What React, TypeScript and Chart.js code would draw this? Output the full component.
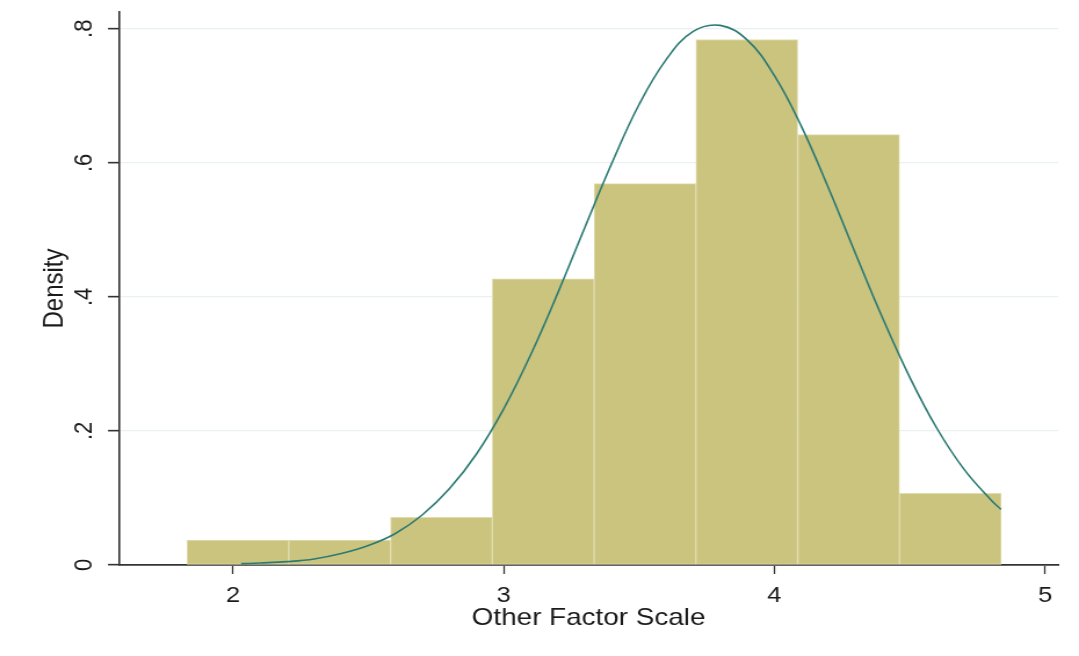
import React, { useEffect, useRef } from "react";
import { Chart, registerables } from "chart.js";

Chart.register(...registerables);

// Histogram bins (bin centres on Other Factor Scale) and densities
const binCenters = [2.018, 2.394, 2.770, 3.146, 3.522, 3.898, 4.274, 4.650];
const binDensity = [0.037, 0.037, 0.071, 0.427, 0.569, 0.784, 0.642, 0.107];

// Normal density overlay
const curveX = [2.03, 2.1, 2.2, 2.3, 2.4, 2.5, 2.6, 2.7, 2.8, 2.9, 3.0, 3.1, 3.2, 3.3, 3.4, 3.5, 3.6, 3.7, 3.8, 3.9, 4.0, 4.1, 4.2, 4.3, 4.4, 4.5, 4.6, 4.7, 4.8, 4.837];
const curveY = [0.002, 0.003, 0.005, 0.009, 0.017, 0.029, 0.047, 0.075, 0.114, 0.166, 0.233, 0.314, 0.406, 0.504, 0.600, 0.687, 0.754, 0.796, 0.805, 0.783, 0.730, 0.654, 0.562, 0.464, 0.368, 0.280, 0.204, 0.143, 0.097, 0.083];

// Axis ticks
const xTickValues = [2, 3, 4, 5];
const yTickValues = [0, 0.2, 0.4, 0.6, 0.8];
const yTickLabels = ["0", ".2", ".4", ".6", ".8"];

const xTitle = "Other Factor Scale";
const yTitle = "Density";

const FULL_W = 1079;
const FULL_H = 656;
const CANVAS_W = 930;
const STRETCH = FULL_W / CANVAS_W;
const FONT = "'Liberation Sans', Arial, sans-serif";

export default function App() {
  const canvasRef = useRef<HTMLCanvasElement | null>(null);

  useEffect(() => {
    const canvas = canvasRef.current;
    if (!canvas) return;
    const chart = new Chart(canvas, {
      type: "bar",
      data: {
        datasets: [
          {
            type: "line",
            data: curveX.map((x, i) => ({ x, y: curveY[i] })),
            borderColor: "#2b7a74",
            borderWidth: 1.6,
            pointRadius: 0,
            tension: 0.4,
            fill: false,
            order: 0,
          } as any,
          {
            type: "bar",
            data: binCenters.map((x, i) => ({ x, y: binDensity[i] })),
            backgroundColor: "#cbc47f",
            borderColor: "#e2ddb0",
            borderWidth: 1,
            borderSkipped: false,
            barPercentage: 1,
            categoryPercentage: 1,
            order: 1,
          } as any,
        ],
      },
      options: {
        responsive: false,
        animation: false,
        devicePixelRatio: 1,
        layout: { padding: { top: 12, right: 18, left: 0, bottom: 0 } },
        plugins: {
          legend: { display: false },
          tooltip: { enabled: false },
        },
        scales: {
          x: {
            type: "linear",
            min: 1.579,
            max: 5.048,
            offset: false,
            afterBuildTicks: (scale: any) => {
              scale.ticks = xTickValues.map((v) => ({ value: v }));
            },
            afterFit: (scale: any) => {
              scale.height = 91;
              scale.paddingLeft = 0;
              scale.paddingRight = 0;
            },
            grid: {
              drawOnChartArea: false,
              offset: false,
              tickLength: 9,
              tickColor: "#333",
              tickWidth: 1.3,
            },
            border: { display: true, color: "#333", width: 1.8 },
            ticks: {
              color: "#1a1a1a",
              font: { family: FONT, size: 22 },
              padding: 9,
              maxRotation: 0,
              minRotation: 0,
              callback: (v: any) => String(v),
            },
            title: {
              display: true,
              text: xTitle,
              color: "#1a1a1a",
              font: { family: FONT, size: 24 },
              padding: { top: 0, bottom: 23 },
            },
          },
          y: {
            type: "linear",
            min: 0,
            max: 0.825,
            afterBuildTicks: (scale: any) => {
              scale.ticks = yTickValues.map((v) => ({ value: v }));
            },
            afterFit: (scale: any) => {
              scale.width = 102.6;
              scale.paddingTop = 0;
              scale.paddingBottom = 0;
            },
            grid: {
              color: "#e9f1f1",
              lineWidth: 1.3,
              tickLength: 9.5,
              tickColor: "#333",
              tickWidth: 1.6,
            },
            border: { display: true, color: "#333", width: 1.6 },
            ticks: {
              color: "#1a1a1a",
              font: { family: FONT, size: 22 },
              padding: 10.6,
              minRotation: 90,
              maxRotation: 90,
              crossAlign: "center",
              callback: (v: any) => {
                const i = yTickValues.findIndex((t) => Math.abs(t - Number(v)) < 1e-9);
                return i >= 0 ? yTickLabels[i] : "";
              },
            },
            title: {
              display: true,
              text: yTitle,
              color: "#1a1a1a",
              font: { family: FONT, size: 24 },
              padding: { top: 33, bottom: 0 },
            },
          },
        },
      } as any,
    });
    return () => chart.destroy();
  }, []);

  return (
    <div
      style={{
        position: "absolute",
        left: 0,
        top: 0,
        width: FULL_W,
        height: FULL_H,
        overflow: "hidden",
        background: "#ffffff",
      }}
    >
      <canvas
        ref={canvasRef}
        width={CANVAS_W}
        height={FULL_H}
        style={{
          width: CANVAS_W + "px",
          height: FULL_H + "px",
          display: "block",
          transform: `scaleX(${STRETCH})`,
          transformOrigin: "0 0",
        }}
      />
    </div>
  );
}
